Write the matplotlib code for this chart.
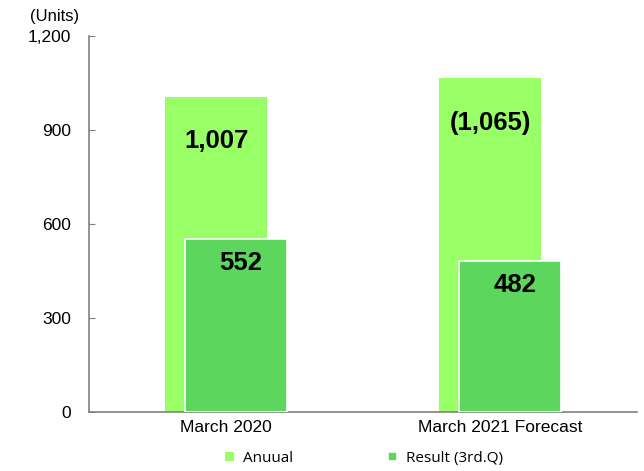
import matplotlib.pyplot as plt
import numpy as np

plt.rcParams['font.family'] = ['Liberation Sans', 'DejaVu Sans']

categories = ["March 2020", "March 2021 Forecast"]
annual = [1007, 1065]
result = [552, 482]
annual_labels = ["1,007", "(1,065)"]
result_labels = ["552", "482"]
yticks = [0, 300, 600, 900, 1200]
ytick_labels = ["0", "300", "600", "900", "1,200"]

fig = plt.figure(figsize=(6.44, 4.71), dpi=100)
ax = fig.add_axes([0.1382, 0.125, 0.851, 0.7985])

x = np.arange(len(categories))
w = 0.37
ax.bar(x - 0.037, annual, w, color='#99FF66', zorder=2, label='Anuual')
ax.bar(x + 0.037, result, w, color='#5CD65C', edgecolor='white', linewidth=1.2,
       zorder=3, label='Result (3rd.Q)')

for i in range(len(categories)):
    ax.text(x[i] - 0.035, annual[i] - 143, annual_labels[i], ha='center', va='center',
            fontsize=18.5, fontweight='bold', zorder=4)
    ax.text(x[i] + 0.055, result[i] - 75, result_labels[i], ha='center', va='center',
            fontsize=18.5, fontweight='bold', zorder=4)

ax.set_xlim(-0.5, 1.5)
ax.set_ylim(0, 1200)
ax.set_yticks(yticks)
ax.set_yticklabels(ytick_labels, fontsize=12.5)
ax.set_xticks(x)
ax.set_xticklabels(categories, fontsize=12.5)
ax.tick_params(axis='x', length=0, pad=6)
ax.tick_params(axis='y', direction='in', length=4, color='#808080', pad=13)
for s in ['top', 'right']:
    ax.spines[s].set_visible(False)
for s in ['left', 'bottom']:
    ax.spines[s].set_color('#808080')
    ax.spines[s].set_linewidth(1.2)

fig.text(0.047, 0.965, "(Units)", fontsize=12, ha='left', va='center')

leg = fig.legend(loc='center', bbox_to_anchor=(0.565, 0.027), ncol=2, frameon=False,
                 handlelength=0.6, handleheight=0.6, columnspacing=6.2,
                 handletextpad=0.6, prop={'family': ['Open Sans', 'DejaVu Sans'], 'size': 11})

fig.savefig('out.png', dpi=100)
